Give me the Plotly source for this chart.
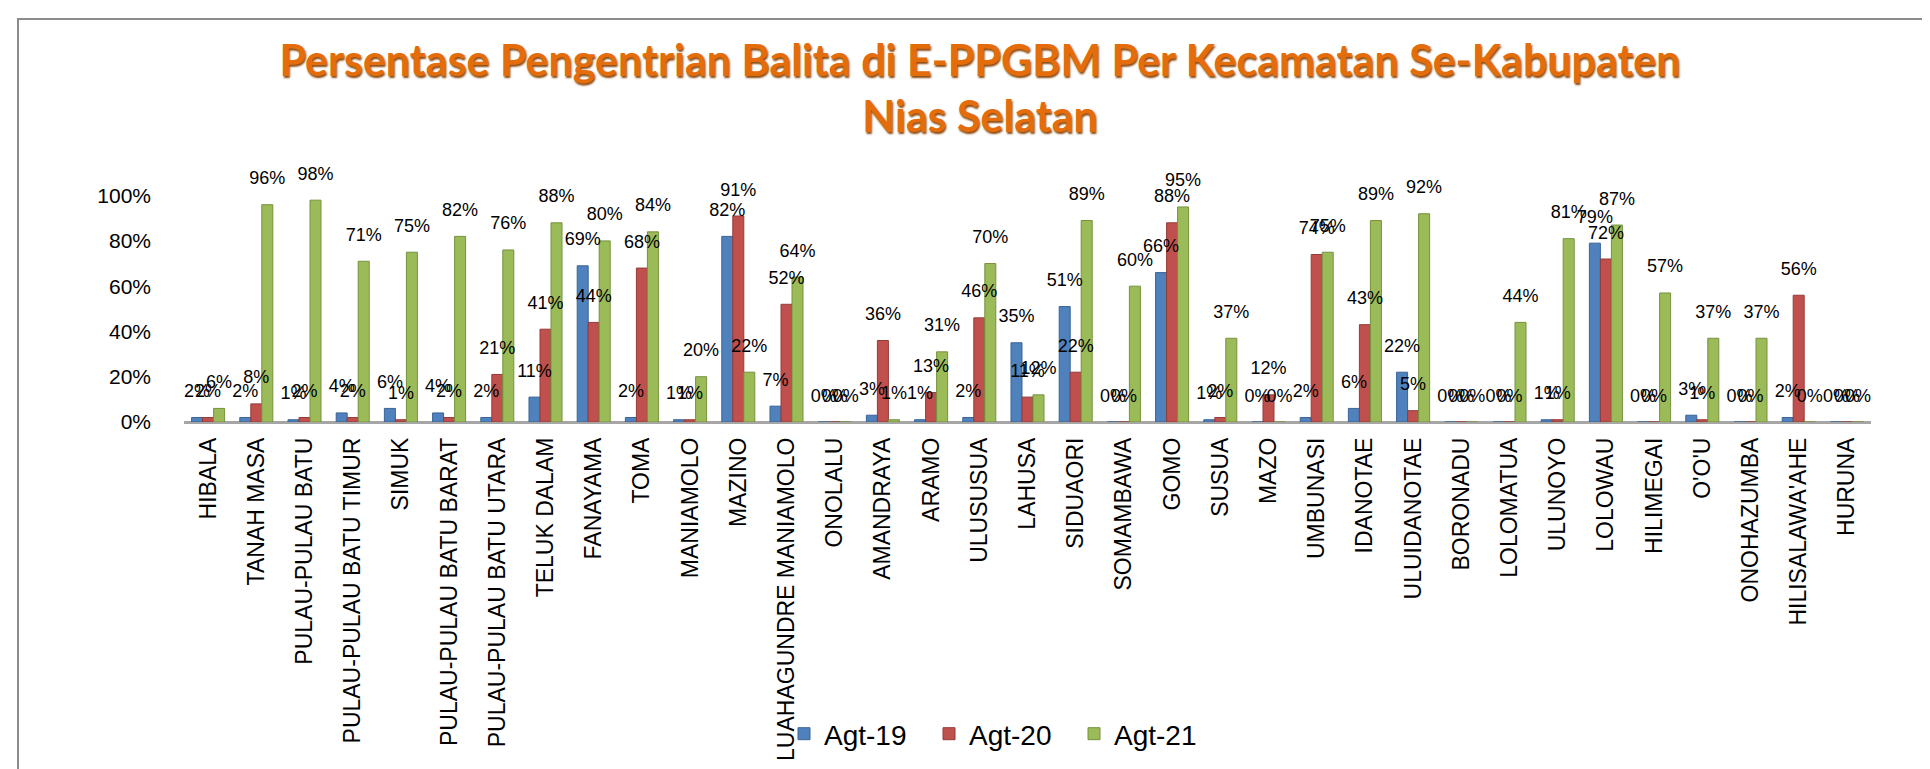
import plotly.graph_objects as go

kecamatan = ["HIBALA", "TANAH MASA", "PULAU-PULAU BATU", "PULAU-PULAU BATU TIMUR", "SIMUK",
             "PULAU-PULAU BATU BARAT", "PULAU-PULAU BATU UTARA", "TELUK DALAM", "FANAYAMA", "TOMA",
             "MANIAMOLO", "MAZINO", "LUAHAGUNDRE MANIAMOLO", "ONOLALU", "AMANDRAYA", "ARAMO",
             "ULUSUSUA", "LAHUSA", "SIDUAORI", "SOMAMBAWA", "GOMO", "SUSUA", "MAZO", "UMBUNASI",
             "IDANOTAE", "ULUIDANOTAE", "BORONADU", "LOLOMATUA", "ULUNOYO", "LOLOWAU",
             "HILIMEGAI", "O'O'U", "ONOHAZUMBA", "HILISALAWA'AHE", "HURUNA"]

agt19 = [2, 2, 1, 4, 6, 4, 2, 11, 69, 2, 1, 82, 7, 0, 3, 1, 2, 35, 51, 0, 66, 1, 0, 2,
         6, 22, 0, 0, 1, 79, 0, 3, 0, 2, 0]
agt20 = [2, 8, 2, 2, 1, 2, 21, 41, 44, 68, 1, 91, 52, 0, 36, 13, 46, 11, 22, 0, 88, 2, 12, 74,
         43, 5, 0, 0, 1, 72, 0, 1, 0, 56, 0]
agt21 = [6, 96, 98, 71, 75, 82, 76, 88, 80, 84, 20, 22, 64, 0, 1, 31, 70, 12, 89, 60, 95, 37, 0, 75,
         89, 92, 0, 44, 81, 87, 57, 37, 37, 0, 0]

y_ticks = [0, 20, 40, 60, 80, 100]
y_tick_labels = ["0%", "20%", "40%", "60%", "80%", "100%"]

series_names = ["Agt-19", "Agt-20", "Agt-21"]
series_colors = ["#4F81BD", "#C0504D", "#9BBB59"]
series_lines = ["#3A6496", "#943B39", "#76923C"]

W, H = 1930, 769
L, R, T, B = 176, 67, 165, 355
GAP = 0.315

fig = go.Figure()
all_series = [agt19, agt20, agt21]
for name, vals, col, lc in zip(series_names, all_series, series_colors, series_lines):
    fig.add_trace(go.Bar(
        x=kecamatan, y=vals, name=name, offsetgroup=name,
        marker=dict(color=col, line=dict(color=lc, width=1)),
    ))
# data labels, grouped the same way as the bars, lifted above the bar tops
for name, vals in zip(series_names, all_series):
    fig.add_trace(go.Scatter(
        x=kecamatan, y=vals, mode="markers+text", offsetgroup=name,
        marker=dict(size=24, color="rgba(0,0,0,0)"),
        text=[f"{v}%" for v in vals], textposition="top center",
        textfont=dict(family="Liberation Sans, Arial, sans-serif", size=18, color="#000000"),
        cliponaxis=False, showlegend=False, hoverinfo="skip",
    ))

pw = W - L - R
ph = H - T - B
# chart border (left and top edges visible)
fig.add_shape(type="rect", xref="paper", yref="paper",
              x0=(10 - L) / pw, x1=(1945 - L) / pw,
              y0=(H - B - 790) / ph, y1=(H - B - 11) / ph,
              line=dict(color="#8C8C8C", width=2), fillcolor="rgba(0,0,0,0)", layer="below")

fig.update_layout(
    width=W, height=H,
    margin=dict(l=L, r=R, t=T, b=B, autoexpand=False),
    paper_bgcolor="#FFFFFF", plot_bgcolor="#FFFFFF",
    barmode="group", bargap=GAP, bargroupgap=0,
    scattermode="group", scattergap=GAP,
    title=dict(
        text="Persentase Pengentrian Balita di E-PPGBM Per Kecamatan Se-Kabupaten<br>Nias Selatan",
        x=972 / W, xanchor="center", xref="container",
        y=1 - 68 / H, yanchor="middle", yref="container",
        font=dict(family="Lato, Noto Sans, sans-serif", size=43, color="#E46C0A",
                  weight="bold", shadow="1px 2px 2px #8A4A10"),
    ),
    xaxis=dict(
        type="category", tickangle=-90,
        tickfont=dict(family="Liberation Sans, Arial, sans-serif", size=23, color="#000000"),
        showgrid=False, showline=False, ticks="", ticklen=0, ticklabelstandoff=10,
    ),
    yaxis=dict(
        range=[0, 110], tickmode="array", tickvals=y_ticks, ticktext=y_tick_labels,
        tickfont=dict(family="Liberation Sans, Arial, sans-serif", size=21, color="#000000"),
        showgrid=False, showline=False, ticks="", ticklabelstandoff=32,
        zeroline=True, zerolinecolor="#A6A6A6", zerolinewidth=3,
    ),
    legend=dict(
        orientation="h", xref="container", yref="container",
        x=776 / W, xanchor="left", y=1 - 726 / H, yanchor="middle",
        font=dict(family="Liberation Sans, Arial, sans-serif", size=28, color="#000000"),
        entrywidth=100, bgcolor="rgba(0,0,0,0)",
    ),
    showlegend=True,
)

fig.write_html("out.html")
